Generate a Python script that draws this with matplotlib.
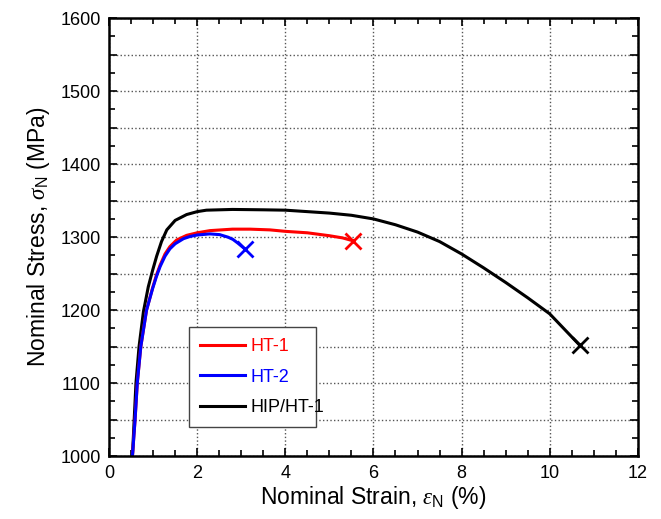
import numpy as np
import matplotlib
matplotlib.use('Agg')
import matplotlib.pyplot as plt
from matplotlib.ticker import MultipleLocator, FuncFormatter

plt.rcParams['font.family'] = ['Liberation Sans', 'DejaVu Sans']
plt.rcParams['mathtext.fontset'] = 'custom'
plt.rcParams['mathtext.rm'] = 'Liberation Sans'
plt.rcParams['mathtext.it'] = 'Liberation Serif:italic'

# Stress-strain curves (strain in %, stress in MPa)
ht1_strain = [0.53, 0.59, 0.64, 0.72, 0.85, 0.99, 1.08, 1.16, 1.27, 1.38, 1.53, 1.76,
              2.0, 2.29, 2.8, 3.2, 3.65, 4.0, 4.5, 5.0, 5.3, 5.54]
ht1_stress = [1000, 1050, 1100, 1150, 1200, 1231, 1249, 1262, 1277, 1287, 1296, 1302.5,
              1306, 1309, 1311, 1311, 1310, 1308, 1306, 1302, 1299, 1295]

ht2_strain = [0.53, 0.59, 0.64, 0.72, 0.85, 0.99, 1.08, 1.16, 1.27, 1.38, 1.50, 1.69,
              1.84, 2.0, 2.29, 2.51, 2.7, 2.81, 2.92, 3.08]
ht2_stress = [1000, 1050, 1100, 1150, 1200, 1230, 1247, 1260, 1274, 1284, 1291, 1298,
              1301, 1303, 1304.5, 1303.5, 1300, 1297, 1292, 1284]

hip_strain = [0.53, 0.57, 0.61, 0.68, 0.78, 0.89, 0.99, 1.08, 1.19, 1.31, 1.50, 1.76,
              2.0, 2.21, 2.8, 3.5, 4.0, 4.5, 5.0, 5.5, 6.0, 6.5, 7.0, 7.5, 8.0, 8.5,
              9.0, 9.5, 10.0, 10.68]
hip_stress = [1000, 1050, 1100, 1150, 1198, 1232, 1255, 1274, 1294, 1310, 1323, 1331,
              1335, 1337, 1338, 1337.5, 1337, 1335, 1333, 1330, 1325, 1317, 1307, 1294,
              1277, 1258, 1238, 1217, 1195, 1152]

series = [
    ('HIP/HT-1', hip_strain, hip_stress, 'black'),
    ('HT-1', ht1_strain, ht1_stress, 'red'),
    ('HT-2', ht2_strain, ht2_stress, 'blue'),
]

fig = plt.figure(figsize=(6.61, 5.19), dpi=100)
ax = fig.add_axes([0.165, 0.121, 0.800, 0.844])

lines = {}
for name, x, y, c in series:
    ln, = ax.plot(x, y, color=c, lw=2.2, label=name, solid_joinstyle='round')
    ax.plot(x[-1], y[-1], marker='x', color=c, ms=11, mew=2, ls='none')
    lines[name] = ln

ax.set_xlim(0, 12)
ax.set_ylim(1000, 1600)
ax.xaxis.set_major_locator(MultipleLocator(2))
ax.xaxis.set_minor_locator(MultipleLocator(0.5))
ax.yaxis.set_major_locator(MultipleLocator(50))
ax.yaxis.set_minor_locator(MultipleLocator(25))
ax.yaxis.set_major_formatter(FuncFormatter(lambda v, p: '%d' % v if v % 100 == 0 else ''))

ax.tick_params(which='both', direction='in', top=True, right=True, labelsize=13, width=1.2)
ax.tick_params(which='major', length=6, pad=6)
ax.tick_params(which='minor', length=4)
for s in ax.spines.values():
    s.set_linewidth(1.8)

ax.grid(True, which='major', ls=':', color='#555555', lw=1.0)

ax.set_xlabel(r'Nominal Strain, $\varepsilon_{\rm N}$ (%)', fontsize=16.5, labelpad=2)
ax.set_ylabel(r'Nominal Stress, $\sigma_{\rm N}$ (MPa)', fontsize=16.5, labelpad=6)

order = ['HT-1', 'HT-2', 'HIP/HT-1']
leg = ax.legend([lines[n] for n in order], order, loc='lower left',
                bbox_to_anchor=(0.134, 0.046, 0.274, 0.226), mode='expand',
                fontsize=13, fancybox=False, framealpha=1, edgecolor='#444444',
                handlelength=2.5, borderpad=0.6, labelspacing=0.75, handletextpad=0.3)
leg.get_frame().set_linewidth(1.0)
for txt, n in zip(leg.get_texts(), order):
    txt.set_color(lines[n].get_color())

fig.savefig('out.png', dpi=100)
